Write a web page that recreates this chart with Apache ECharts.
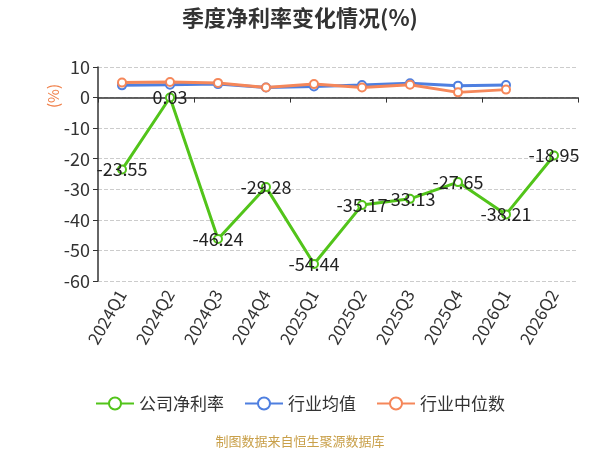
<!DOCTYPE html>
<html>
<head>
<meta charset="utf-8">
<script src="https://cdn.jsdelivr.net/npm/echarts@6/dist/echarts.min.js"></script>
<style>
html,body{margin:0;padding:0;background:#fff;}
#main{width:600px;height:450px;}
</style>
</head>
<body>
<div id="main"></div>
<script>
// 季度
var quarters = ['2024Q1','2024Q2','2024Q3','2024Q4','2025Q1','2025Q2','2025Q3','2025Q4','2026Q1','2026Q2'];
// 公司净利率
var companyRate = [-23.55, 0.03, -46.24, -29.28, -54.44, -35.17, -33.13, -27.65, -38.21, -18.95];
// 行业均值
var industryAvg = [4.0, 4.2, 4.4, 3.3, 3.6, 4.1, 4.7, 3.9, 4.1];
// 行业中位数
var industryMedian = [4.9, 5.1, 4.8, 3.3, 4.4, 3.3, 4.2, 1.7, 2.6];

var font = '"Noto Sans CJK SC", "Noto Sans", sans-serif';
var myChart = echarts.init(document.getElementById('main'));

var option = {
    backgroundColor: '#fff',
    textStyle: { fontFamily: font },
    title: {
        text: '季度净利率变化情况(%)',
        left: 'center',
        top: 2,
        textStyle: { fontSize: 22, fontWeight: 'bold', color: '#333', fontFamily: font }
    },
    legend: {
        bottom: 33,
        itemWidth: 38,
        itemHeight: 15,
        itemGap: 20,
        textStyle: { fontSize: 17, color: '#333', fontFamily: font },
        data: ['公司净利率', '行业均值', '行业中位数']
    },
    graphic: [{
        type: 'text',
        left: 'center',
        bottom: 2,
        style: { text: '制图数据来自恒生聚源数据库', fill: '#c9a04a', fontSize: 13, fontFamily: font }
    }, {
        // 纵轴单位
        type: 'text',
        x: 46,
        y: 108,
        rotation: Math.PI / 2,
        style: { text: '(%)', fill: '#f0804a', fontSize: 15, fontFamily: font }
    }],
    grid: { left: 98, right: 22, top: 67, bottom: 169, containLabel: false, outerBoundsMode: 'none' },
    xAxis: [{
        type: 'category',
        data: quarters,
        axisLine: { onZero: true, lineStyle: { color: '#333', width: 1.5 } },
        axisTick: { show: true, lineStyle: { color: '#333' } },
        axisLabel: { show: false }
    }, {
        type: 'category',
        data: quarters,
        position: 'bottom',
        axisLine: { show: false, onZero: false },
        axisTick: { show: false },
        axisLabel: { rotate: 60, fontSize: 17, color: '#333', margin: 10, fontFamily: font }
    }],
    yAxis: {
        type: 'value',
        min: -60,
        max: 10,
        interval: 10,
        axisLine: { show: true, lineStyle: { color: '#333', width: 1.5 } },
        axisTick: { show: true, lineStyle: { color: '#333' } },
        axisLabel: { fontSize: 18, color: '#333', fontFamily: font },
        splitLine: { lineStyle: { type: 'dashed', color: '#ccc' } }
    },
    series: [{
        name: '公司净利率',
        type: 'line',
        data: companyRate,
        color: '#52c41a',
        symbol: 'emptyCircle',
        symbolSize: 8,
        lineStyle: { width: 3 },
        label: { show: true, position: 'inside', fontSize: 18, color: '#222', fontFamily: font },
        z: 3
    }, {
        name: '行业均值',
        type: 'line',
        data: industryAvg,
        color: '#4e7fe0',
        symbol: 'emptyCircle',
        symbolSize: 8,
        lineStyle: { width: 3 }
    }, {
        name: '行业中位数',
        type: 'line',
        data: industryMedian,
        color: '#f5875a',
        symbol: 'emptyCircle',
        symbolSize: 8,
        lineStyle: { width: 3 }
    }]
};
myChart.setOption(option);
</script>
</body>
</html>
